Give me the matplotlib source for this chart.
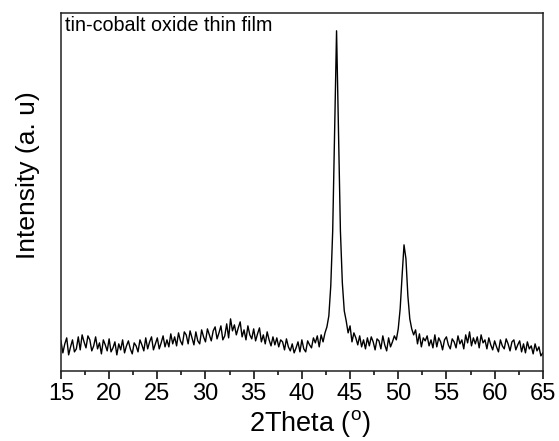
import numpy as np
import matplotlib
matplotlib.use("Agg")
import matplotlib.pyplot as plt
from matplotlib.ticker import MultipleLocator, NullLocator

plt.rcParams['font.family'] = ['Liberation Sans', 'DejaVu Sans']
plt.rcParams['mathtext.fontset'] = 'custom'
plt.rcParams['mathtext.rm'] = 'Liberation Sans'

# 2theta grid, 15..65 deg every 0.2 deg
two_theta = np.linspace(15, 65, 251)

# intensity (a. u.), one row per degree (x.0, x.2, x.4, x.6, x.8)
intensity = [
    30, 18, 27, 33, 16,   # 15
    24, 31, 19, 22, 34,   # 16
    21, 36, 29, 23, 35,   # 17
    31, 20, 25, 34, 22,   # 18
    28, 17, 31, 26, 20,   # 19
    32, 19, 23, 29, 16,   # 20
    27, 21, 31, 18, 25,   # 21
    30, 22, 17, 28, 25,   # 22
    19, 31, 26, 20, 33,   # 23
    22, 29, 34, 21, 27,   # 24
    33, 22, 28, 35, 24,   # 25
    31, 24, 37, 27, 34,   # 26
    25, 38, 30, 26, 39,   # 27
    36, 27, 40, 33, 26,   # 28
    39, 30, 27, 41, 34,   # 29
    29, 42, 36, 30, 40,   # 30
    44, 32, 38, 45, 31,   # 31
    35, 47, 33, 52, 40,   # 32
    46, 36, 43, 49, 34,   # 33
    41, 31, 45, 36, 32,   # 34
    42, 30, 37, 43, 29,   # 35
    36, 27, 39, 31, 25,   # 36
    34, 26, 33, 24, 31,   # 37
    29, 21, 32, 24, 20,   # 38
    27, 18, 23, 29, 19,   # 39
    31, 22, 19, 30, 26,   # 40
    23, 33, 28, 35, 24,   # 41
    36, 29, 38, 44, 55,   # 42
    85, 140, 240, 340, 240,  # 43
    140, 88, 60, 50, 38,  # 44
    45, 29, 38, 33, 26,   # 45
    35, 24, 31, 22, 33,   # 46
    25, 34, 29, 21, 32,   # 47
    30, 22, 35, 26, 20,   # 48
    33, 24, 29, 35, 31,   # 49
    42, 62, 95, 126, 112,  # 50
    75, 52, 42, 36, 41,   # 51
    27, 37, 24, 33, 30,   # 52
    35, 25, 31, 23, 36,   # 53
    24, 33, 29, 21, 31,   # 54
    34, 26, 22, 32, 29,   # 55
    23, 35, 27, 31, 22,   # 56
    36, 28, 39, 25, 33,   # 57
    27, 34, 23, 36, 28,   # 58
    31, 22, 33, 26, 21,   # 59
    30, 24, 19, 31, 25,   # 60
    22, 32, 27, 20, 29,   # 61
    31, 21, 26, 30, 19,   # 62
    27, 18, 29, 22, 25,   # 63
    17, 27, 20, 24, 15,   # 64
    18,                   # 65
]

fig = plt.figure(figsize=(5.59, 4.41), dpi=100)
ax = fig.add_axes([0.109, 0.159, 0.862, 0.812])

ax.plot(two_theta, intensity, color="black", lw=1.0)

ax.set_xlim(15, 65)
ax.set_ylim(0, 358)
ax.xaxis.set_major_locator(MultipleLocator(5))
ax.xaxis.set_minor_locator(MultipleLocator(2.5))
ax.yaxis.set_major_locator(NullLocator())
ax.tick_params(axis='x', which='major', direction='out', length=6, width=1.1,
               labelsize=17, pad=3)
ax.tick_params(axis='x', which='minor', direction='out', length=3, width=1.1)
for s in ax.spines.values():
    s.set_linewidth(1.1)
    s.set_color("#222222")

ax.set_xlabel('2Theta ($\\mathregular{^{o}}$)', fontsize=19.5)
ax.xaxis.set_label_coords(0.517, -0.105)
ax.set_ylabel('Intensity (a. u)', fontsize=19)
ax.yaxis.set_label_coords(-0.044, 0.547)

# sample label in the top left corner
ax.text(0.008, 0.99, 'tin-cobalt oxide thin film', transform=ax.transAxes,
        fontsize=14.2, va='top', ha='left')

fig.savefig("out.png", dpi=100)
